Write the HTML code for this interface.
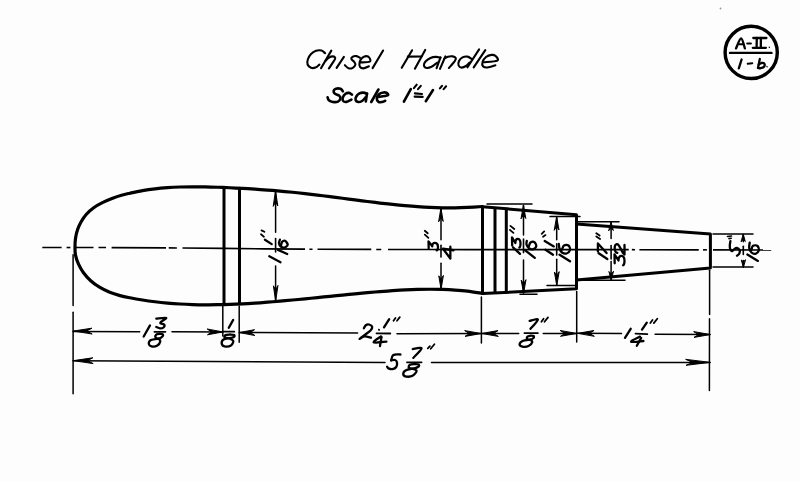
<!DOCTYPE html>
<html><head><meta charset="utf-8"><style>
html,body{margin:0;padding:0;background:#fdfdfd;width:800px;height:481px;overflow:hidden;}
svg{display:block;font-family:"Liberation Sans",sans-serif;}
svg path,svg line,svg circle{vector-effect:non-scaling-stroke;}
</style></head><body>
<svg width="800" height="481" viewBox="0 0 800 481">
<rect width="800" height="481" fill="#fdfdfd"/>
<circle cx="720.5" cy="8.5" r="0.9" fill="#999"/>
<g fill="none" stroke="#000" stroke-linecap="round" stroke-linejoin="round">
<path d="M325.10,53.20 C324.50,52.77 323.02,51.00 321.50,50.60 C319.98,50.20 317.75,50.23 316.00,50.80 C314.25,51.37 312.37,52.55 311.00,54.00 C309.63,55.45 308.37,57.75 307.80,59.50 C307.23,61.25 307.07,63.12 307.60,64.50 C308.13,65.88 309.68,67.28 311.00,67.80 C312.32,68.32 314.10,68.13 315.50,67.60 C316.90,67.07 318.75,65.10 319.40,64.60" stroke-width="2.10"/>
<path d="M321.00,68.20 L331.30,50.60" stroke-width="2.10"/>
<path d="M325.60,60.80 C326.17,60.27 327.80,58.33 329.00,57.60 C330.20,56.87 331.77,56.37 332.80,56.40 C333.83,56.43 334.97,57.12 335.20,57.80 C335.43,58.48 335.25,58.73 334.20,60.50 C333.15,62.27 329.78,67.08 328.90,68.40" stroke-width="2.10"/>
<path d="M336.60,67.90 L343.90,56.80" stroke-width="2.10"/>
<path d="M359.90,57.80 C359.33,57.52 357.73,56.27 356.50,56.10 C355.27,55.93 353.35,56.28 352.50,56.80 C351.65,57.32 351.12,58.37 351.40,59.20 C351.68,60.03 353.53,60.90 354.20,61.80 C354.87,62.70 355.63,63.60 355.40,64.60 C355.17,65.60 353.95,67.18 352.80,67.80 C351.65,68.42 349.82,68.73 348.50,68.30 C347.18,67.87 345.50,65.72 344.90,65.20" stroke-width="2.10"/>
<path d="M360.30,62.40 C361.88,62.27 368.32,62.42 369.80,61.60 C371.28,60.78 369.83,58.42 369.20,57.50 C368.57,56.58 367.20,56.02 366.00,56.10 C364.80,56.18 363.07,56.93 362.00,58.00 C360.93,59.07 359.93,61.03 359.60,62.50 C359.27,63.97 359.35,65.82 360.00,66.80 C360.65,67.78 362.02,68.48 363.50,68.40 C364.98,68.32 368.00,66.65 368.90,66.30" stroke-width="2.10"/>
<path d="M372.60,68.10 L383.10,50.50" stroke-width="2.10"/>
<path d="M401.75,67.75 L412.10,50.25" stroke-width="2.10"/>
<path d="M414.90,68.70 L425.20,49.90" stroke-width="2.10"/>
<path d="M407.80,56.60 L421.60,56.50" stroke-width="2.10"/>
<path d="M440.50,57.60 C439.75,57.48 437.67,56.83 436.00,56.90 C434.33,56.97 432.25,57.23 430.50,58.00 C428.75,58.77 426.60,60.25 425.50,61.50 C424.40,62.75 423.73,64.42 423.90,65.50 C424.07,66.58 425.23,67.78 426.50,68.00 C427.77,68.22 429.67,67.72 431.50,66.80 C433.33,65.88 436.50,63.22 437.50,62.50" stroke-width="2.10"/>
<path d="M440.50,57.40 L436.60,68.20" stroke-width="2.10"/>
<path d="M440.00,68.80 L445.40,56.40" stroke-width="2.10"/>
<path d="M444.30,58.60 C444.92,58.28 446.58,57.07 448.00,56.70 C449.42,56.33 451.50,56.15 452.80,56.40 C454.10,56.65 455.50,57.37 455.80,58.20 C456.10,59.03 455.75,59.77 454.60,61.40 C453.45,63.03 449.85,66.90 448.90,68.00" stroke-width="2.10"/>
<path d="M471.50,58.80 C470.83,58.43 469.00,56.83 467.50,56.60 C466.00,56.37 463.92,56.67 462.50,57.40 C461.08,58.13 459.65,59.65 459.00,61.00 C458.35,62.35 458.18,64.40 458.60,65.50 C459.02,66.60 460.27,67.52 461.50,67.60 C462.73,67.68 464.65,66.85 466.00,66.00 C467.35,65.15 469.00,63.08 469.60,62.50" stroke-width="2.10"/>
<path d="M467.50,67.30 L479.10,49.40" stroke-width="2.10"/>
<path d="M473.70,67.30 L485.30,50.20" stroke-width="2.10"/>
<path d="M483.70,62.20 C485.97,61.93 495.33,61.63 497.30,60.60 C499.27,59.57 496.47,56.95 495.50,56.00 C494.53,55.05 493.08,54.73 491.50,54.90 C489.92,55.07 487.48,55.85 486.00,57.00 C484.52,58.15 483.10,60.27 482.60,61.80 C482.10,63.33 482.18,65.25 483.00,66.20 C483.82,67.15 485.43,67.65 487.50,67.50 C489.57,67.35 494.08,65.67 495.40,65.30" stroke-width="2.10"/>
<path d="M342.90,91.40 C342.50,90.97 341.65,89.25 340.50,88.80 C339.35,88.35 337.15,88.33 336.00,88.70 C334.85,89.07 333.77,90.15 333.60,91.00 C333.43,91.85 334.07,93.03 335.00,93.80 C335.93,94.57 338.30,94.80 339.20,95.60 C340.10,96.40 340.60,97.60 340.40,98.60 C340.20,99.60 339.23,101.03 338.00,101.60 C336.77,102.17 334.53,102.23 333.00,102.00 C331.47,101.77 329.70,100.98 328.80,100.20 C327.90,99.42 327.80,97.78 327.60,97.30" stroke-width="2.60"/>
<path d="M352.00,94.60 C351.50,94.32 350.08,93.03 349.00,92.90 C347.92,92.77 346.53,93.03 345.50,93.80 C344.47,94.57 343.18,96.30 342.80,97.50 C342.42,98.70 342.58,100.27 343.20,101.00 C343.82,101.73 345.13,102.13 346.50,101.90 C347.87,101.67 350.58,99.98 351.40,99.60" stroke-width="2.60"/>
<path d="M367.00,93.80 C366.42,93.60 364.75,92.67 363.50,92.60 C362.25,92.53 360.70,92.75 359.50,93.40 C358.30,94.05 356.95,95.40 356.30,96.50 C355.65,97.60 355.28,99.08 355.60,100.00 C355.92,100.92 357.13,101.83 358.20,102.00 C359.27,102.17 360.78,101.75 362.00,101.00 C363.22,100.25 364.92,98.08 365.50,97.50" stroke-width="2.60"/>
<path d="M367.00,93.60 L365.80,101.50" stroke-width="2.60"/>
<path d="M371.25,102.00 L378.40,89.50" stroke-width="2.60"/>
<path d="M377.60,97.00 C379.27,96.73 386.10,96.08 387.60,95.40 C389.10,94.72 387.28,93.38 386.60,92.90 C385.92,92.42 384.77,92.27 383.50,92.50 C382.23,92.73 380.12,93.30 379.00,94.30 C377.88,95.30 376.88,97.25 376.80,98.50 C376.72,99.75 377.63,101.22 378.50,101.80 C379.37,102.38 380.88,102.17 382.00,102.00 C383.12,101.83 384.67,101.00 385.20,100.80" stroke-width="2.60"/>
<path d="M403.90,101.60 L410.80,89.10" stroke-width="2.60"/>
<path d="M413.90,88.10 L416.75,84.70" stroke-width="2.10"/>
<path d="M418.00,89.10 L420.80,85.90" stroke-width="2.10"/>
<path d="M414.90,93.40 L422.00,94.00" stroke-width="2.10"/>
<path d="M414.60,96.60 L422.70,96.90" stroke-width="2.10"/>
<path d="M425.80,101.25 L433.00,90.00" stroke-width="2.60"/>
<path d="M439.90,88.40 L442.00,85.90" stroke-width="2.10"/>
<path d="M443.60,89.10 L446.10,86.25" stroke-width="2.10"/>
<circle cx="751.2" cy="52.4" r="26.1" stroke-width="3.4"/>
<line x1="730.00" y1="52.90" x2="771.50" y2="52.90" stroke-width="2.40"/>
<path d="M736.00,48.40 C736.85,46.73 739.62,38.40 741.10,38.40 C742.58,38.40 744.27,46.73 744.90,48.40" stroke-width="2.30"/>
<path d="M738.60,44.20 L743.40,44.20" stroke-width="2.00"/>
<path d="M747.20,43.60 L750.90,43.60" stroke-width="2.00"/>
<path d="M753.30,38.00 L766.40,38.00" stroke-width="2.30"/>
<path d="M752.80,47.80 L765.90,47.80" stroke-width="2.30"/>
<path d="M756.80,38.00 L756.60,47.80" stroke-width="2.30"/>
<path d="M760.90,38.00 L760.80,47.80" stroke-width="2.30"/>
<path d="M769.20,47.10 L769.40,47.40" stroke-width="1.20"/>
<path d="M738.80,68.30 L741.60,59.50" stroke-width="2.30"/>
<path d="M747.70,63.70 L752.30,63.20" stroke-width="2.00"/>
<path d="M758.00,67.90 L759.80,59.00" stroke-width="2.30"/>
<path d="M758.80,64.50 C759.25,64.25 760.58,63.15 761.50,63.00 C762.42,62.85 763.88,62.97 764.30,63.60 C764.72,64.23 764.58,66.03 764.00,66.80 C763.42,67.57 761.80,68.02 760.80,68.20 C759.80,68.38 758.47,67.95 758.00,67.90" stroke-width="2.30"/>
<path d="M766.90,66.50 L767.20,66.80" stroke-width="1.20"/>
<path d="M482.50,206.50 C480.00,206.65 472.08,207.15 467.50,207.37 C462.92,207.59 459.17,207.75 455.00,207.82 C450.83,207.89 446.67,207.89 442.50,207.82 C438.33,207.75 434.17,207.61 430.00,207.42 C425.83,207.23 421.67,206.97 417.50,206.68 C413.33,206.39 409.17,206.04 405.00,205.67 C400.83,205.30 396.67,204.88 392.50,204.44 C388.33,204.00 384.17,203.53 380.00,203.04 C375.83,202.55 371.67,202.03 367.50,201.51 C363.33,200.99 359.17,200.45 355.00,199.91 C350.83,199.37 346.67,198.81 342.50,198.27 C338.33,197.73 334.17,197.17 330.00,196.64 C325.83,196.11 321.67,195.58 317.50,195.07 C313.33,194.56 309.17,194.06 305.00,193.60 C300.83,193.13 296.67,192.70 292.50,192.28 C288.33,191.86 284.17,191.47 280.00,191.10 C275.83,190.73 271.67,190.38 267.50,190.06 C263.33,189.74 259.17,189.44 255.00,189.16 C250.83,188.88 246.67,188.63 242.50,188.40 C238.33,188.17 234.17,187.95 230.00,187.76 C225.83,187.57 221.67,187.39 217.50,187.25 C213.33,187.11 209.17,186.98 205.00,186.90 C200.83,186.82 196.67,186.76 192.50,186.78 C188.33,186.80 184.17,186.85 180.00,187.00 C175.83,187.15 171.67,187.35 167.50,187.66 C163.33,187.97 159.17,188.34 155.00,188.84 C150.83,189.34 146.67,189.93 142.50,190.66 C138.33,191.39 133.50,192.44 130.00,193.20 C126.50,193.96 124.40,194.37 121.50,195.20 C118.60,196.03 115.78,196.97 112.60,198.20 C109.42,199.43 105.55,201.02 102.40,202.60 C99.25,204.18 96.37,205.77 93.70,207.70 C91.03,209.63 88.47,211.90 86.40,214.20 C84.33,216.50 82.77,218.95 81.30,221.50 C79.83,224.05 78.57,226.72 77.60,229.50 C76.63,232.28 75.93,235.17 75.50,238.20 C75.07,241.23 75.00,244.87 75.00,247.70 C75.00,250.53 74.93,252.50 75.50,255.20 C76.07,257.90 77.07,260.98 78.40,263.90 C79.73,266.82 81.45,269.90 83.50,272.70 C85.55,275.50 88.03,278.28 90.70,280.70 C93.37,283.12 96.33,285.27 99.50,287.20 C102.67,289.13 106.28,290.90 109.70,292.30 C113.12,293.70 116.62,294.68 120.00,295.60 C123.38,296.52 126.25,297.07 130.00,297.80 C133.75,298.53 138.33,299.34 142.50,300.00 C146.67,300.66 150.83,301.23 155.00,301.74 C159.17,302.25 163.33,302.68 167.50,303.05 C171.67,303.42 175.83,303.73 180.00,303.98 C184.17,304.23 188.33,304.41 192.50,304.54 C196.67,304.67 200.83,304.75 205.00,304.78 C209.17,304.81 213.33,304.78 217.50,304.72 C221.67,304.66 225.83,304.55 230.00,304.41 C234.17,304.27 238.33,304.08 242.50,303.86 C246.67,303.64 250.83,303.39 255.00,303.12 C259.17,302.85 263.33,302.53 267.50,302.21 C271.67,301.88 275.83,301.53 280.00,301.17 C284.17,300.81 288.33,300.42 292.50,300.03 C296.67,299.64 300.83,299.24 305.00,298.83 C309.17,298.42 313.33,298.01 317.50,297.59 C321.67,297.17 325.83,296.75 330.00,296.33 C334.17,295.91 338.33,295.49 342.50,295.08 C346.67,294.67 350.83,294.26 355.00,293.86 C359.17,293.46 363.33,293.06 367.50,292.69 C371.67,292.32 375.83,291.95 380.00,291.62 C384.17,291.29 388.33,290.97 392.50,290.69 C396.67,290.41 400.83,290.16 405.00,289.95 C409.17,289.74 413.33,289.56 417.50,289.45 C421.67,289.33 425.83,289.26 430.00,289.26 C434.17,289.26 438.33,289.31 442.50,289.44 C446.67,289.57 450.83,289.76 455.00,290.05 C459.17,290.34 462.92,290.60 467.50,291.16 C472.08,291.72 480.00,293.03 482.50,293.40" stroke-width="3.20"/>
<path d="M482.5,206.8 L576.5,214.7 L576.5,288.7 L482.5,293.6" stroke-width="3.0"/>
<line x1="482.50" y1="207.20" x2="482.50" y2="293.20" stroke-width="3.00"/>
<line x1="495.00" y1="208.25" x2="495.00" y2="292.55" stroke-width="3.00"/>
<line x1="506.30" y1="209.20" x2="506.30" y2="291.96" stroke-width="3.00"/>
<path d="M576.5,224.0 L710.4,233.9 L710.4,267.9 L576.5,280.0" stroke-width="3.0"/>
<line x1="224.00" y1="187.60" x2="224.00" y2="304.40" stroke-width="3.00"/>
<line x1="239.50" y1="188.20" x2="239.50" y2="303.60" stroke-width="3.00"/>
<polyline points="42.30,247.50 61.60,247.52" stroke-width="1.6" stroke-linecap="butt"/>
<polyline points="66.60,247.53 70.40,247.53" stroke-width="1.6" stroke-linecap="butt"/>
<polyline points="76.00,247.54 93.50,247.56" stroke-width="1.6" stroke-linecap="butt"/>
<polyline points="98.50,247.56 106.00,247.57" stroke-width="1.6" stroke-linecap="butt"/>
<polyline points="111.60,247.58 166.00,247.86" stroke-width="1.6" stroke-linecap="butt"/>
<polyline points="168.75,247.88 176.90,247.94" stroke-width="1.6" stroke-linecap="butt"/>
<polyline points="182.50,247.97 223.33,248.38 264.17,248.87 305.00,249.16" stroke-width="1.6" stroke-linecap="butt"/>
<polyline points="309.40,249.19 312.50,249.20" stroke-width="1.6" stroke-linecap="butt"/>
<polyline points="317.50,249.23 371.25,249.41" stroke-width="1.6" stroke-linecap="butt"/>
<polyline points="376.25,249.43 381.25,249.44" stroke-width="1.6" stroke-linecap="butt"/>
<polyline points="388.00,249.46 428.12,249.57 468.25,249.60 508.38,249.60 548.50,249.60 588.62,249.60 628.75,249.67" stroke-width="1.6" stroke-linecap="butt"/>
<polyline points="631.90,249.67 635.00,249.68" stroke-width="1.6" stroke-linecap="butt"/>
<polyline points="639.40,249.69 698.75,249.83" stroke-width="1.6" stroke-linecap="butt"/>
<polyline points="703.00,249.84 706.90,249.84" stroke-width="1.6" stroke-linecap="butt"/>
<polyline points="713.00,249.86 771.25,249.99" stroke-width="1.6" stroke-linecap="butt"/>
<line x1="73.10" y1="254.70" x2="73.10" y2="305.60" stroke-width="1.50"/>
<line x1="73.10" y1="312.20" x2="73.10" y2="393.80" stroke-width="1.50"/>
<line x1="222.80" y1="306.00" x2="222.80" y2="336.00" stroke-width="1.50"/>
<line x1="239.20" y1="306.00" x2="239.20" y2="342.20" stroke-width="1.50"/>
<line x1="481.40" y1="297.00" x2="481.40" y2="343.00" stroke-width="1.50"/>
<line x1="576.70" y1="291.50" x2="576.70" y2="342.00" stroke-width="1.50"/>
<line x1="709.60" y1="270.20" x2="709.60" y2="314.60" stroke-width="1.50"/>
<line x1="709.50" y1="318.70" x2="709.40" y2="390.40" stroke-width="1.50"/>
<line x1="487.00" y1="204.00" x2="532.00" y2="204.00" stroke-width="1.50"/>
<line x1="520.00" y1="294.30" x2="537.00" y2="294.30" stroke-width="1.50"/>
<line x1="550.00" y1="216.40" x2="580.00" y2="216.40" stroke-width="1.50"/>
<line x1="547.00" y1="285.40" x2="575.00" y2="285.40" stroke-width="1.50"/>
<line x1="577.00" y1="221.70" x2="619.00" y2="221.70" stroke-width="1.50"/>
<line x1="577.00" y1="280.30" x2="625.00" y2="280.30" stroke-width="1.50"/>
<line x1="713.00" y1="234.00" x2="753.00" y2="234.00" stroke-width="1.50"/>
<line x1="713.00" y1="267.00" x2="753.00" y2="267.00" stroke-width="1.50"/>
<line x1="73.00" y1="331.40" x2="139.70" y2="331.70" stroke-width="1.50"/>
<line x1="172.00" y1="331.70" x2="222.80" y2="332.00" stroke-width="1.50"/>
<path d="M73.80,331.00 L91.80,328.20 L86.76,331.00 L91.80,333.80 Z" fill="#000" stroke-width="1.0"/>
<path d="M222.50,332.00 L207.50,334.80 L211.70,332.00 L207.50,329.20 Z" fill="#000" stroke-width="1.0"/>
<line x1="239.20" y1="332.50" x2="357.60" y2="332.90" stroke-width="1.50"/>
<path d="M239.50,332.50 L254.50,329.70 L250.30,332.50 L254.50,335.30 Z" fill="#000" stroke-width="1.0"/>
<line x1="397.00" y1="333.70" x2="481.00" y2="333.60" stroke-width="1.50"/>
<path d="M481.00,333.60 L465.00,336.40 L469.48,333.60 L465.00,330.80 Z" fill="#000" stroke-width="1.0"/>
<line x1="481.50" y1="333.40" x2="518.70" y2="333.40" stroke-width="1.50"/>
<path d="M482.00,333.40 L498.00,330.60 L493.52,333.40 L498.00,336.20 Z" fill="#000" stroke-width="1.0"/>
<line x1="543.20" y1="333.40" x2="576.50" y2="333.50" stroke-width="1.50"/>
<path d="M576.50,333.50 L560.50,336.30 L564.98,333.50 L560.50,330.70 Z" fill="#000" stroke-width="1.0"/>
<line x1="577.00" y1="333.30" x2="621.50" y2="333.60" stroke-width="1.50"/>
<path d="M578.00,333.30 L594.00,330.50 L589.52,333.30 L594.00,336.10 Z" fill="#000" stroke-width="1.0"/>
<line x1="655.10" y1="334.20" x2="710.00" y2="334.60" stroke-width="1.50"/>
<path d="M710.00,334.60 L694.00,337.40 L698.48,334.60 L694.00,331.80 Z" fill="#000" stroke-width="1.0"/>
<line x1="73.00" y1="360.80" x2="385.00" y2="362.40" stroke-width="1.50"/>
<line x1="431.50" y1="362.60" x2="710.00" y2="362.40" stroke-width="1.50"/>
<path d="M73.80,360.60 L92.80,357.80 L87.48,360.60 L92.80,363.40 Z" fill="#000" stroke-width="1.0"/>
<path d="M710.00,362.40 L686.00,365.30 L692.72,362.40 L686.00,359.50 Z" fill="#000" stroke-width="1.0"/>
<line x1="275.60" y1="191.00" x2="275.60" y2="232.30" stroke-width="1.50"/>
<line x1="275.60" y1="266.10" x2="275.60" y2="300.80" stroke-width="1.50"/>
<path d="M275.60,191.00 L277.80,206.00 L275.60,201.80 L273.40,206.00 Z" fill="#000" stroke-width="1.0"/>
<path d="M275.60,300.80 L273.40,285.80 L275.60,290.00 L277.80,285.80 Z" fill="#000" stroke-width="1.0"/>
<line x1="441.00" y1="208.40" x2="441.00" y2="239.70" stroke-width="1.50"/>
<line x1="441.00" y1="263.30" x2="441.00" y2="288.80" stroke-width="1.50"/>
<path d="M441.00,208.40 L443.20,221.40 L441.00,217.76 L438.80,221.40 Z" fill="#000" stroke-width="1.0"/>
<path d="M441.00,288.80 L438.80,275.80 L441.00,279.44 L443.20,275.80 Z" fill="#000" stroke-width="1.0"/>
<line x1="523.50" y1="205.50" x2="523.50" y2="235.10" stroke-width="1.50"/>
<line x1="523.50" y1="260.00" x2="523.50" y2="293.00" stroke-width="1.50"/>
<path d="M523.50,205.50 L525.80,218.50 L523.50,214.86 L521.20,218.50 Z" fill="#000" stroke-width="1.0"/>
<path d="M523.50,293.00 L521.20,280.00 L523.50,283.64 L525.80,280.00 Z" fill="#000" stroke-width="1.0"/>
<line x1="556.70" y1="217.00" x2="556.70" y2="239.70" stroke-width="1.50"/>
<line x1="556.70" y1="259.30" x2="556.70" y2="285.00" stroke-width="1.50"/>
<path d="M556.70,217.00 L559.00,230.00 L556.70,226.36 L554.40,230.00 Z" fill="#000" stroke-width="1.0"/>
<path d="M556.70,285.00 L554.40,272.00 L556.70,275.64 L559.00,272.00 Z" fill="#000" stroke-width="1.0"/>
<line x1="611.10" y1="222.50" x2="611.10" y2="238.40" stroke-width="1.50"/>
<line x1="611.10" y1="261.40" x2="611.10" y2="279.50" stroke-width="1.50"/>
<path d="M611.10,222.50 L613.30,230.50 L611.10,228.26 L608.90,230.50 Z" fill="#000" stroke-width="1.0"/>
<path d="M611.10,279.50 L608.90,271.50 L611.10,273.74 L613.30,271.50 Z" fill="#000" stroke-width="1.0"/>
<line x1="743.30" y1="234.50" x2="743.30" y2="241.70" stroke-width="1.50"/>
<line x1="743.30" y1="260.50" x2="743.30" y2="267.00" stroke-width="1.50"/>
<path d="M743.30,234.50 L745.30,241.50 L743.30,239.54 L741.30,241.50 Z" fill="#000" stroke-width="1.0"/>
<path d="M743.30,267.00 L741.30,260.00 L743.30,261.96 L745.30,260.00 Z" fill="#000" stroke-width="1.0"/>
<path d="M143.70,336.50 L150.00,325.40" stroke-width="2.30"/>
<path d="M156.30,318.70 C157.95,318.57 165.53,317.23 166.20,317.90 C166.87,318.57 160.63,321.58 160.30,322.70 C159.97,323.82 163.67,323.80 164.20,324.60 C164.73,325.40 164.20,326.87 163.50,327.50 C162.80,328.13 161.20,328.48 160.00,328.40 C158.80,328.32 156.92,327.23 156.30,327.00" stroke-width="2.30"/>
<line x1="154.40" y1="331.80" x2="165.40" y2="331.80" stroke-width="1.80"/>
<path d="M159.50,333.80 C158.92,333.97 156.65,334.18 156.00,334.80 C155.35,335.42 155.18,336.87 155.60,337.50 C156.02,338.13 157.37,338.77 158.50,338.60 C159.63,338.43 161.73,337.23 162.40,336.50 C163.07,335.77 162.98,334.65 162.50,334.20 C162.02,333.75 160.00,333.87 159.50,333.80" stroke-width="2.30"/>
<path d="M158.50,338.60 C157.25,338.83 152.62,339.18 151.00,340.00 C149.38,340.82 148.72,342.43 148.80,343.50 C148.88,344.57 150.13,346.02 151.50,346.40 C152.87,346.78 155.53,346.62 157.00,345.80 C158.47,344.98 160.05,342.70 160.30,341.50 C160.55,340.30 158.80,339.08 158.50,338.60" stroke-width="2.30"/>
<path d="M228.80,327.80 L233.20,319.90" stroke-width="2.30"/>
<line x1="222.90" y1="331.70" x2="234.30" y2="331.70" stroke-width="1.80"/>
<path d="M230.00,334.50 C229.25,334.58 226.42,334.55 225.50,335.00 C224.58,335.45 223.92,336.67 224.50,337.20 C225.08,337.73 227.45,338.23 229.00,338.20 C230.55,338.17 232.93,337.53 233.80,337.00 C234.67,336.47 234.83,335.42 234.20,335.00 C233.57,334.58 230.70,334.58 230.00,334.50" stroke-width="2.30"/>
<path d="M229.00,338.20 C228.08,338.42 224.72,338.62 223.50,339.50 C222.28,340.38 221.53,342.37 221.70,343.50 C221.87,344.63 223.03,345.92 224.50,346.30 C225.97,346.68 229.03,346.68 230.50,345.80 C231.97,344.92 233.55,342.27 233.30,341.00 C233.05,339.73 229.72,338.67 229.00,338.20" stroke-width="2.30"/>
<path d="M363.90,328.20 C364.22,327.70 364.95,325.82 365.80,325.20 C366.65,324.58 367.93,324.23 369.00,324.50 C370.07,324.77 371.95,325.80 372.20,326.80 C372.45,327.80 371.87,329.05 370.50,330.50 C369.13,331.95 365.83,334.10 364.00,335.50 C362.17,336.90 359.42,338.75 359.50,338.90 C359.58,339.05 362.58,336.60 364.50,336.40 C366.42,336.20 369.92,337.48 371.00,337.70" stroke-width="2.30"/>
<path d="M384.00,327.40 L389.20,319.10" stroke-width="2.30"/>
<path d="M393.50,320.70 L395.50,317.90" stroke-width="1.80"/>
<path d="M397.00,320.70 L399.80,317.10" stroke-width="1.80"/>
<path d="M378.90,329.60 L379.10,329.90" stroke-width="1.80"/>
<line x1="376.50" y1="333.30" x2="390.30" y2="333.50" stroke-width="1.80"/>
<path d="M380.90,336.50 C379.70,337.48 372.78,341.55 373.70,342.40 C374.62,343.25 384.28,341.73 386.40,341.60" stroke-width="2.30"/>
<path d="M381.50,337.00 L380.00,346.00" stroke-width="2.30"/>
<path d="M400.40,354.50 C399.22,354.58 394.83,354.02 393.30,355.00 C391.77,355.98 391.55,359.50 391.20,360.40" stroke-width="2.30"/>
<path d="M391.20,360.40 C391.83,360.33 394.03,359.65 395.00,360.00 C395.97,360.35 396.80,361.33 397.00,362.50 C397.20,363.67 396.95,365.90 396.20,367.00 C395.45,368.10 393.78,368.87 392.50,369.10 C391.22,369.33 389.40,368.82 388.50,368.40 C387.60,367.98 387.33,366.90 387.10,366.60" stroke-width="2.30"/>
<path d="M412.80,349.10 C414.27,348.97 421.52,346.83 421.60,348.30 C421.68,349.77 414.68,356.30 413.30,357.90" stroke-width="2.30"/>
<path d="M427.80,348.30 L429.90,346.20" stroke-width="1.80"/>
<path d="M430.70,348.70 L434.40,344.20" stroke-width="1.80"/>
<line x1="407.00" y1="362.30" x2="421.60" y2="362.30" stroke-width="1.80"/>
<path d="M415.00,364.10 C414.17,364.22 411.03,364.23 410.00,364.80 C408.97,365.37 408.30,366.85 408.80,367.50 C409.30,368.15 411.37,368.87 413.00,368.70 C414.63,368.53 417.68,367.22 418.60,366.50 C419.52,365.78 419.10,364.80 418.50,364.40 C417.90,364.00 415.58,364.15 415.00,364.10" stroke-width="2.30"/>
<path d="M413.00,368.70 C411.75,369.00 407.12,369.53 405.50,370.50 C403.88,371.47 403.13,373.48 403.30,374.50 C403.47,375.52 404.97,376.38 406.50,376.60 C408.03,376.82 410.82,376.73 412.50,375.80 C414.18,374.87 416.52,372.18 416.60,371.00 C416.68,369.82 413.60,369.08 413.00,368.70" stroke-width="2.30"/>
<path d="M529.60,320.90 C530.98,320.68 537.75,318.28 537.90,319.60 C538.05,320.92 531.73,327.27 530.50,328.80" stroke-width="2.30"/>
<path d="M541.40,321.80 L543.60,318.70" stroke-width="1.80"/>
<path d="M544.50,321.80 L548.00,317.40" stroke-width="1.80"/>
<line x1="524.40" y1="333.10" x2="537.90" y2="333.10" stroke-width="1.80"/>
<path d="M530.50,335.70 C530.00,335.85 528.08,336.05 527.50,336.60 C526.92,337.15 526.58,338.48 527.00,339.00 C527.42,339.52 528.92,339.87 530.00,339.70 C531.08,339.53 532.90,338.62 533.50,338.00 C534.10,337.38 534.10,336.38 533.60,336.00 C533.10,335.62 531.02,335.75 530.50,335.70" stroke-width="2.30"/>
<path d="M530.00,339.70 C528.75,339.92 524.23,340.20 522.50,341.00 C520.77,341.80 519.60,343.57 519.60,344.50 C519.60,345.43 521.02,346.35 522.50,346.60 C523.98,346.85 526.87,346.77 528.50,346.00 C530.13,345.23 532.05,343.05 532.30,342.00 C532.55,340.95 530.38,340.08 530.00,339.70" stroke-width="2.30"/>
<path d="M625.00,337.90 L630.70,328.80" stroke-width="2.30"/>
<path d="M642.00,329.60 L646.80,322.70" stroke-width="2.30"/>
<path d="M650.30,323.10 L652.50,320.00" stroke-width="1.80"/>
<path d="M653.80,323.10 L657.30,318.70" stroke-width="1.80"/>
<line x1="635.50" y1="333.60" x2="647.30" y2="334.20" stroke-width="1.80"/>
<path d="M639.90,336.60 C638.43,337.47 630.52,341.07 631.10,341.80 C631.68,342.53 641.35,341.13 643.40,341.00" stroke-width="2.30"/>
<path d="M641.20,337.90 L636.80,345.80" stroke-width="2.30"/>
<path d="M261.50,230.40 L264.40,231.80" stroke-width="1.80"/>
<path d="M261.00,234.30 L263.90,236.70" stroke-width="1.80"/>
<path d="M264.90,239.70 L271.70,244.10" stroke-width="2.30"/>
<path d="M269.30,256.30 L280.50,262.20" stroke-width="2.30"/>
<path d="M278.10,249.90 L287.20,254.00" stroke-width="2.30"/>
<line x1="275.60" y1="238.50" x2="275.60" y2="252.00" stroke-width="1.60"/>
<path d="M279.90,239.70 C279.75,240.30 278.85,242.17 279.00,243.30 C279.15,244.43 279.88,245.78 280.80,246.50 C281.72,247.22 283.35,247.90 284.50,247.60 C285.65,247.30 287.62,245.83 287.70,244.70 C287.78,243.57 285.92,241.28 285.00,240.80 C284.08,240.32 282.87,241.02 282.20,241.80 C281.53,242.58 281.20,244.88 281.00,245.50" stroke-width="2.30"/>
<path d="M424.80,230.80 L427.70,233.30" stroke-width="1.80"/>
<path d="M424.80,234.70 L428.40,237.90" stroke-width="1.80"/>
<line x1="441.00" y1="245.30" x2="441.00" y2="257.00" stroke-width="1.60"/>
<path d="M0.5,0.2 L6,0 L2.6,4 C6.5,3.8 6.8,10 2.8,10 C1.2,10 0.3,9.4 0,8.6" transform="matrix(0.0000,-1.2700,0.9500,0.1500,428.50,249.00)" stroke-width="2.30"/>
<path d="M4.6,10 L4.6,0 L0,7 L6.2,7" transform="matrix(0.0000,-1.9000,1.0500,0.1500,443.00,257.50)" stroke-width="2.30"/>
<path d="M510.40,225.90 L514.30,229.00" stroke-width="1.80"/>
<path d="M509.90,229.90 L513.40,232.90" stroke-width="1.80"/>
<line x1="523.50" y1="239.00" x2="523.50" y2="252.60" stroke-width="1.60"/>
<path d="M513.00,247.30 L520.00,253.90" stroke-width="2.30"/>
<path d="M0.5,0.2 L6,0 L2.6,4 C6.5,3.8 6.8,10 2.8,10 C1.2,10 0.3,9.4 0,8.6" transform="matrix(0.0000,-1.5000,0.8500,0.1500,512.00,246.30)" stroke-width="2.30"/>
<path d="M525.20,250.40 L534.80,257.80" stroke-width="2.30"/>
<path d="M526.80,240.80 C526.75,241.42 526.17,243.30 526.50,244.50 C526.83,245.70 527.80,247.18 528.80,248.00 C529.80,248.82 531.27,249.65 532.50,249.40 C533.73,249.15 535.87,247.70 536.20,246.50 C536.53,245.30 535.45,242.87 534.50,242.20 C533.55,241.53 531.42,241.87 530.50,242.50 C529.58,243.13 529.25,245.42 529.00,246.00" stroke-width="2.30"/>
<path d="M541.70,233.90 L544.20,231.40" stroke-width="1.80"/>
<path d="M543.00,236.80 L545.50,235.10" stroke-width="1.80"/>
<line x1="556.70" y1="243.90" x2="556.70" y2="255.10" stroke-width="1.60"/>
<path d="M544.70,241.00 L553.80,246.40" stroke-width="2.30"/>
<path d="M545.50,249.70 L553.00,254.70" stroke-width="2.30"/>
<path d="M559.60,254.70 L570.00,261.30" stroke-width="2.30"/>
<path d="M558.80,243.90 C558.92,244.67 558.97,247.07 559.50,248.50 C560.03,249.93 560.83,251.67 562.00,252.50 C563.17,253.33 565.17,253.92 566.50,253.50 C567.83,253.08 569.67,251.33 570.00,250.00 C570.33,248.67 569.50,246.25 568.50,245.50 C567.50,244.75 565.08,244.83 564.00,245.50 C562.92,246.17 562.33,248.83 562.00,249.50" stroke-width="2.30"/>
<path d="M596.30,233.20 L599.60,235.60" stroke-width="1.80"/>
<path d="M596.30,236.50 L600.10,239.00" stroke-width="1.80"/>
<line x1="611.10" y1="245.60" x2="611.10" y2="259.00" stroke-width="1.60"/>
<path d="M598.70,253.30 L607.30,259.00" stroke-width="2.30"/>
<path d="M0,0.4 L6,0.4 L1.8,10" transform="matrix(0.0000,-1.3500,0.9060,0.4170,597.54,251.33)" stroke-width="2.30"/>
<path d="M0.5,0.2 L6,0 L2.6,4 C6.5,3.8 6.8,10 2.8,10 C1.2,10 0.3,9.4 0,8.6" transform="matrix(0.0000,-1.6000,1.0000,0.1500,614.50,264.00)" stroke-width="2.30"/>
<path d="M0.3,2.8 C0.3,-0.6 6,-0.8 5.8,2.8 C5.6,5.6 0.5,7.2 0,10 L6,10" transform="matrix(0.0000,-1.6000,1.0000,0.1500,614.50,253.00)" stroke-width="2.30"/>
<path d="M727.50,236.50 L731.50,236.00" stroke-width="1.60"/>
<path d="M729.00,238.60 L731.20,238.20" stroke-width="1.60"/>
<line x1="743.30" y1="246.30" x2="743.30" y2="254.50" stroke-width="1.60"/>
<path d="M730.40,241.20 C730.30,241.92 729.83,244.20 729.80,245.50 C729.77,246.80 729.78,248.05 730.20,249.00 C730.62,249.95 731.63,251.17 732.30,251.20 C732.97,251.23 733.45,249.77 734.20,249.20 C734.95,248.63 735.90,247.67 736.80,247.80 C737.70,247.93 739.18,249.03 739.60,250.00 C740.02,250.97 739.73,252.63 739.30,253.60 C738.87,254.57 737.38,255.43 737.00,255.80" stroke-width="2.30"/>
<path d="M747.40,254.50 L757.90,260.90" stroke-width="2.30"/>
<path d="M749.70,242.60 C749.62,243.50 748.90,246.35 749.20,248.00 C749.50,249.65 750.45,251.53 751.50,252.50 C752.55,253.47 754.28,254.13 755.50,253.80 C756.72,253.47 758.47,251.80 758.80,250.50 C759.13,249.20 758.47,246.78 757.50,246.00 C756.53,245.22 754.00,245.22 753.00,245.80 C752.00,246.38 751.75,248.88 751.50,249.50" stroke-width="2.30"/>
</g>
</svg>
</body></html>
